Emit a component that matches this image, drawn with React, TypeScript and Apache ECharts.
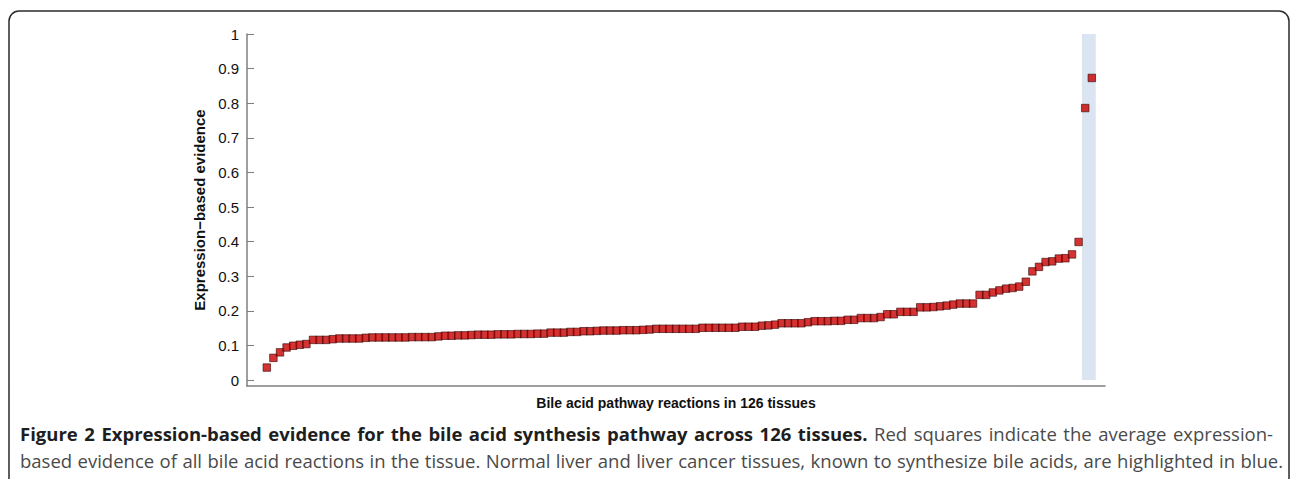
import React, { useEffect, useRef } from "react";
import * as echarts from "echarts";

const tissueIndex: number[] = Array.from({ length: 126 }, (_, i) => i + 1);

const evidence: number[] = [
  0.036, 0.064, 0.080, 0.094, 0.099, 0.102, 0.104, 0.116, 0.116, 0.116,
  0.118, 0.120, 0.120, 0.120, 0.120, 0.122, 0.123, 0.123, 0.123, 0.123,
  0.123, 0.123, 0.124, 0.124, 0.124, 0.124, 0.126, 0.128, 0.128, 0.129,
  0.129, 0.130, 0.131, 0.131, 0.131, 0.132, 0.132, 0.132, 0.133, 0.133,
  0.133, 0.134, 0.134, 0.137, 0.137, 0.137, 0.139, 0.139, 0.141, 0.141,
  0.142, 0.143, 0.143, 0.143, 0.144, 0.144, 0.144, 0.145, 0.146, 0.148,
  0.148, 0.148, 0.148, 0.148, 0.148, 0.148, 0.151, 0.151, 0.151, 0.151,
  0.151, 0.151, 0.154, 0.154, 0.154, 0.157, 0.158, 0.160, 0.164, 0.164,
  0.164, 0.164, 0.167, 0.170, 0.170, 0.170, 0.171, 0.171, 0.174, 0.174,
  0.179, 0.179, 0.179, 0.182, 0.190, 0.190, 0.197, 0.197, 0.197, 0.210,
  0.210, 0.211, 0.213, 0.215, 0.218, 0.221, 0.221, 0.221, 0.246, 0.246,
  0.253, 0.259, 0.264, 0.266, 0.270, 0.284, 0.314, 0.327, 0.341, 0.343,
  0.351, 0.352, 0.363, 0.399, 0.786, 0.873,
];

const yTicks: number[] = [0, 0.1, 0.2, 0.3, 0.4, 0.5, 0.6, 0.7, 0.8, 0.9, 1];
const highlightRange: number[] = [124.5, 126.6];

const yAxisName = "Expression\u2212based evidence";
const xAxisName = "Bile acid pathway reactions in 126 tissues";
const captionBold = "Figure 2 Expression-based evidence for the bile acid synthesis pathway across 126 tissues.";
const captionRest1 = "Red squares indicate the average expression-";
const captionLine2 =
  "based evidence of all bile acid reactions in the tissue. Normal liver and liver cancer tissues, known to synthesize bile acids, are highlighted in blue.";

const CAP_FONT = '"Open Sans"';
const CAP_SIZE = 18.5;

function justifyLine(
  words: { t: string; bold: boolean }[],
  x0: number,
  x1: number,
  y: number
): any[] {
  const canvas = document.createElement("canvas");
  const ctx = canvas.getContext("2d")!;
  const widths = words.map((w) => {
    ctx.font = `${w.bold ? "bold " : ""}${CAP_SIZE}px ${CAP_FONT}`;
    return ctx.measureText(w.t).width;
  });
  const total = widths.reduce((a, b) => a + b, 0);
  const gap = words.length > 1 ? (x1 - x0 - total) / (words.length - 1) : 0;
  let x = x0;
  return words.map((w, i) => {
    const el = {
      type: "text",
      x,
      y,
      silent: true,
      style: {
        text: w.t,
        verticalAlign: "middle",
        fontFamily: "Open Sans",
        fontWeight: w.bold ? "bold" : "normal",
        fontSize: CAP_SIZE,
        fill: w.bold ? "#1e1e1e" : "#4a4a4a",
      },
    };
    x += widths[i] + gap;
    return el;
  });
}

export default function App() {
  const ref = useRef<HTMLDivElement>(null);
  useEffect(() => {
    if (!ref.current) return;
    const chart = echarts.init(ref.current, undefined, { renderer: "svg" });
    const data = tissueIndex.map((x, i) => [x, evidence[i]]);
    const line1 = [
      ...captionBold.split(" ").map((t) => ({ t, bold: true })),
      ...captionRest1.split(" ").map((t) => ({ t, bold: false })),
    ];
    const line2 = captionLine2.split(" ").map((t) => ({ t, bold: false }));
    chart.setOption({
      animation: false,
      backgroundColor: "#ffffff",
      grid: { left: 247, right: 187, top: 34, bottom: 93 },
      xAxis: {
        type: "value",
        min: -2,
        max: 128,
        name: xAxisName,
        nameLocation: "middle",
        nameGap: 10,
        nameTextStyle: { fontFamily: "Liberation Sans", fontWeight: "bold", fontSize: 14, color: "#111" },
        axisLine: { show: true, onZero: false, lineStyle: { color: "#7f7f7f", width: 1.5 } },
        axisTick: { show: false },
        axisLabel: { show: false },
        splitLine: { show: false },
      },
      yAxis: {
        type: "value",
        min: -0.0173,
        max: 1,
        name: yAxisName,
        nameLocation: "middle",
        nameGap: 34,
        nameTextStyle: { fontFamily: "Liberation Sans", fontWeight: "bold", fontSize: 15, color: "#111" },
        axisLine: { show: true, onZero: false, lineStyle: { color: "#7f7f7f", width: 1.5 } },
        axisTick: {
          show: true,
          inside: true,
          length: 7,
          customValues: yTicks,
          lineStyle: { color: "#7f7f7f", width: 1 },
        },
        axisLabel: {
          customValues: yTicks,
          margin: 8,
          fontFamily: "Liberation Sans",
          fontSize: 15,
          color: "#111",
        },
        splitLine: { show: false },
      },
      series: [
        {
          type: "scatter",
          data,
          symbol: "rect",
          symbolSize: 7.5,
          itemStyle: { color: "#c80000", borderColor: "#3a0a0a", borderWidth: 0.8 },
          markArea: {
            silent: true,
            itemStyle: { color: "#dbe5f1" },
            data: [
              [
                { xAxis: highlightRange[0], yAxis: 0 },
                { xAxis: highlightRange[1], yAxis: 1 },
              ],
            ],
          },
          z: 3,
        },
      ],
      graphic: [
        {
          type: "rect",
          shape: { x: 9, y: 11, width: 1280, height: 520, r: 10 },
          style: { fill: "none", stroke: "#2b2b2b", lineWidth: 1.5 },
          silent: true,
        },
        ...justifyLine(line1, 20, 1273, 433),
        ...justifyLine(line2, 20, 1283, 460),
      ],
    });
    return () => chart.dispose();
  }, []);
  return (
    <div style={{ position: "absolute", left: 0, top: 0, width: 1292, height: 479, background: "#fff" }}>
      <div ref={ref} style={{ width: 1292, height: 479 }} />
    </div>
  );
}
